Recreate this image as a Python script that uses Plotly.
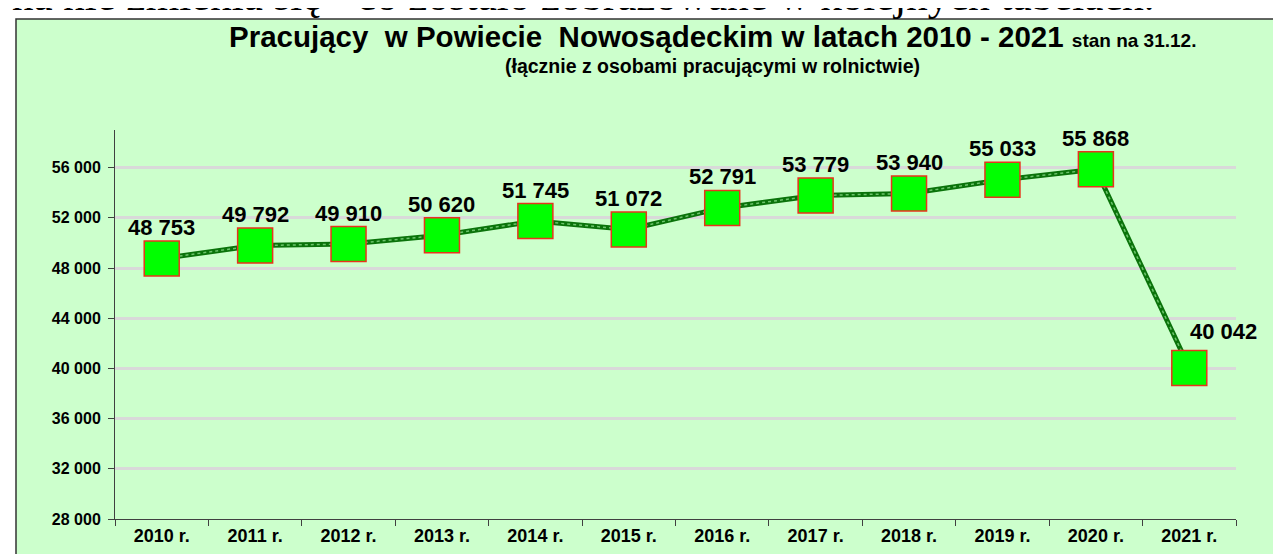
import plotly.graph_objects as go

years = ["2010 r.", "2011 r.", "2012 r.", "2013 r.", "2014 r.", "2015 r.",
         "2016 r.", "2017 r.", "2018 r.", "2019 r.", "2020 r.", "2021 r."]
workers = [48753, 49792, 49910, 50620, 51745, 51072,
           52791, 53779, 53940, 55033, 55868, 40042]
y_ticks = [28000, 32000, 36000, 40000, 44000, 48000, 52000, 56000]

title_text = "Pracujący\u00a0\u00a0w Powiecie\u00a0\u00a0Nowosądeckim w latach 2010 - 2021"
title_note = "stan na 31.12."
subtitle_text = "(łącznie z osobami pracującymi w rolnictwie)"
top_text = "na nie zmienia się - co zostało zobrazowane w kolejnych tabelach."

W, H = 1281, 554
L, R, T, B = 107, 53, 122, 43
PW, PH = W - L - R, H - T - B


def px(xp):
    return (xp - L) / PW


def py(yp):
    return (H - B - yp) / PH


FONT = "Liberation Sans, Arial, sans-serif"
GREEN_BG = "#CCFFCC"

fig = go.Figure()

# line (dark green with lighter dotted texture)
fig.add_trace(go.Scatter(
    x=years, y=workers, mode="lines",
    line=dict(color="#0A730A", width=5), hoverinfo="skip", showlegend=False))
fig.add_trace(go.Scatter(
    x=years, y=workers, mode="lines",
    line=dict(color="#6CC46C", width=1.5, dash="dot"), hoverinfo="skip", showlegend=False))
# markers
fig.add_trace(go.Scatter(
    x=years, y=workers, mode="markers",
    marker=dict(symbol="square", size=35, color="#00FF00",
                line=dict(color="#E8341C", width=1.5)),
    showlegend=False))

annotations = []
for i, (cat, v) in enumerate(zip(years, workers)):
    label = f"{v:,}".replace(",", " ")
    last = i == len(workers) - 1
    annotations.append(dict(
        x=cat, y=v, xref="x", yref="y", text=label, showarrow=False,
        xshift=34 if last else 0, yshift=36 if last else 31,
        font=dict(family=FONT, size=22, color="black", weight="bold")))

annotations.append(dict(
    x=px(704), y=py(47), xref="paper", yref="paper", xanchor="center", yanchor="bottom",
    text=f"<b>{title_text} <span style='font-size:19px'>{title_note}</span></b>",
    showarrow=False, font=dict(family=FONT, size=29.5, color="black")))
annotations.append(dict(
    x=px(704), y=py(58), xref="paper", yref="paper", xanchor="center", yanchor="middle",
    text=f"<b>{subtitle_text}</b>", showarrow=False,
    font=dict(family=FONT, size=19.5, color="black")))
annotations.append(dict(
    x=px(2), y=py(13), xref="paper", yref="paper", xanchor="left", yanchor="bottom",
    text=top_text, showarrow=False,
    font=dict(family="Liberation Serif, Times New Roman, serif", size=43, color="black")))

shapes = [dict(
    type="rect", xref="paper", yref="paper",
    x0=px(8), x1=px(W + 10), y0=py(H + 10), y1=py(11),
    fillcolor=GREEN_BG, line=dict(color="#333333", width=1.5), layer="below")]

fig.update_layout(
    width=W, height=H,
    margin=dict(l=L, r=R, t=T, b=B, pad=0),
    paper_bgcolor="white", plot_bgcolor=GREEN_BG,
    separators=", ",
    annotations=annotations, shapes=shapes,
    xaxis=dict(
        type="category", tickson="boundaries", range=[-0.5, 11.5],
        showgrid=False, zeroline=False,
        showline=True, linecolor="#404040", linewidth=1,
        ticks="outside", ticklen=6, tickcolor="#404040", tickwidth=1,
        tickfont=dict(family=FONT, size=18, color="black", weight="bold")),
    yaxis=dict(
        range=[28000, 59000], tickvals=y_ticks, tickformat=",d",
        showgrid=True, gridcolor="#D9D9D9", gridwidth=3, zeroline=False,
        showline=True, linecolor="#404040", linewidth=1,
        ticks="outside", ticklen=6, tickcolor="#404040", tickwidth=1,
        ticklabelstandoff=4,
        tickfont=dict(family=FONT, size=16, color="black", weight="bold")),
)

fig.write_html("out.html")
